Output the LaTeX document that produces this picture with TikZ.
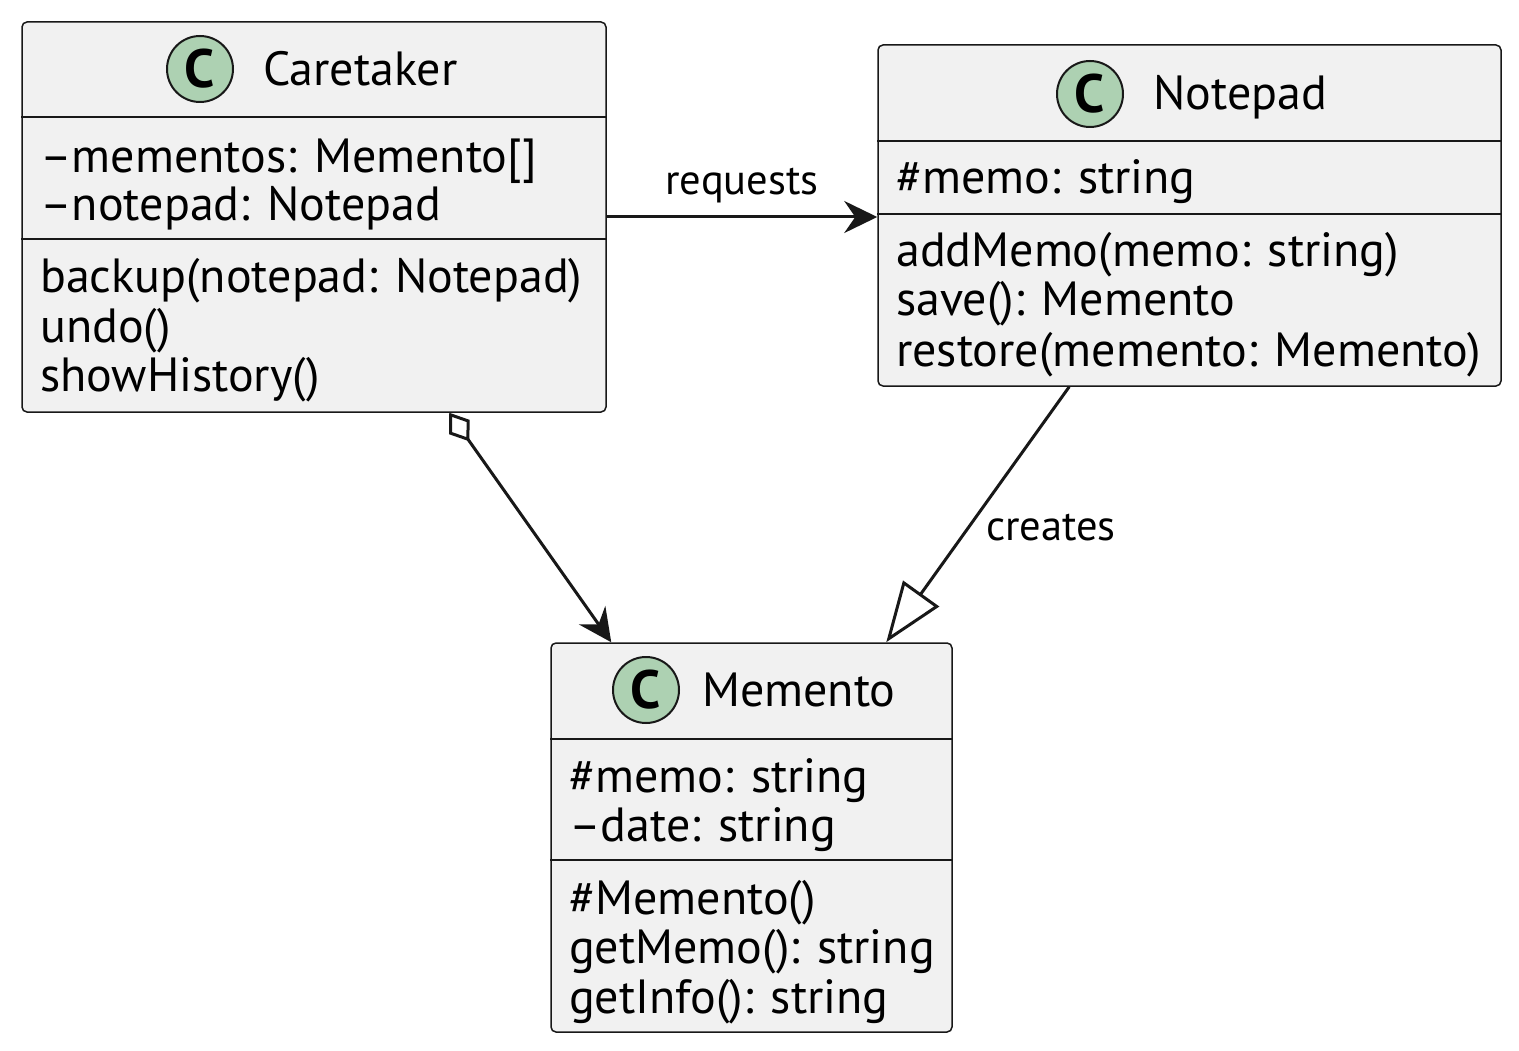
\documentclass[tikz,border=0pt]{standalone}
\usepackage{fontspec}
\setmainfont{PT Sans}
\usetikzlibrary{arrows.meta,calc}
\definecolor{boxfill}{HTML}{F1F1F1}
\definecolor{boxline}{HTML}{181818}
\definecolor{iconfill}{HTML}{ADD1B2}
\tikzset{classbox/.style={draw=boxline, fill=boxfill, line width=1.5pt, rounded corners=5pt, inner sep=0pt}}
\tikzset{divider/.style={draw=boxline, line width=1.5pt}}
\tikzset{icon/.style={circle, draw=boxline, fill=iconfill, line width=2pt, minimum size=66pt, inner sep=0pt, font=\fontsize{54}{54}\selectfont\bfseries}}
\tikzset{title/.style={anchor=base west, inner sep=0pt, font=\fontsize{48}{48}\selectfont}}
\tikzset{member/.style={anchor=base west, inner sep=0pt, font=\fontsize{48}{48}\selectfont}}
\tikzset{link/.style={draw=boxline, line width=3pt}}
\tikzset{assoc/.style={link, -{Stealth[length=33pt, width=32pt, inset=11pt]}}}
\tikzset{aggr/.style={link, {Diamond[open, length=35pt, width=25pt]}-{Stealth[length=33pt, width=32pt, inset=11pt]}}}
\tikzset{gen/.style={link, -{Triangle[open, length=60pt, width=44pt]}}}
\tikzset{linklabel/.style={inner sep=0pt, font=\fontsize{42.5}{42.5}\selectfont}}

\begin{document}
\begin{tikzpicture}[x=1pt, y=-1pt]
  \useasboundingbox (0,0) rectangle (1519,1051);

  % Caretaker
  \node (caretaker) at (314,217)[classbox, minimum width=584pt, minimum height=390pt]{};
  \draw[divider] (caretaker.west |- 0,117) -- (caretaker.east |- 0,117);
  \draw[divider] (caretaker.west |- 0,239) -- (caretaker.east |- 0,239);
  \node (caretakerIcon) at (200,69)[icon]{C};
  \node (caretakerName) at (263,86)[title]{Caretaker};
  \node (caretakerA1) at (40,173)[member]{–mementos: Memento[]};
  \node (caretakerA2) at (40,221)[member]{–notepad: Notepad};
  \node (caretakerM1) at (40,293)[member]{backup(notepad: Notepad)};
  \node (caretakerM2) at (40,342)[member]{undo()};
  \node (caretakerM3) at (40,391)[member]{showHistory()};

  % Notepad
  \node (notepad) at (1189.5,215.5)[classbox, minimum width=623pt, minimum height=341pt]{};
  \draw[divider] (notepad.west |- 0,141) -- (notepad.east |- 0,141);
  \draw[divider] (notepad.west |- 0,214) -- (notepad.east |- 0,214);
  \node (notepadIcon) at (1090,94)[icon]{C};
  \node (notepadName) at (1153,110)[title]{Notepad};
  \node (notepadA1) at (896,194)[member]{\#memo: string};
  \node (notepadM1) at (896,267)[member]{addMemo(memo: string)};
  \node (notepadM2) at (896,316)[member]{save(): Memento};
  \node (notepadM3) at (896,366)[member]{restore(memento: Memento)};

  % Memento
  \node (memento) at (751.5,837.5)[classbox, minimum width=401pt, minimum height=389pt]{};
  \draw[divider] (memento.west |- 0,739) -- (memento.east |- 0,739);
  \draw[divider] (memento.west |- 0,860) -- (memento.east |- 0,860);
  \node (mementoIcon) at (646,690)[icon]{C};
  \node (mementoName) at (702,706)[title]{Memento};
  \node (mementoA1) at (569,792)[member]{\#memo: string};
  \node (mementoA2) at (569,841)[member]{–date: string};
  \node (mementoM1) at (569,914)[member]{\#Memento()};
  \node (mementoM2) at (569,963)[member]{getMemo(): string};
  \node (mementoM3) at (569,1013)[member]{getInfo(): string};

  \draw[assoc] (caretaker.east) -- (caretaker.east -| notepad.west) node [midway, above=12pt, linklabel] {requests};
  \draw[aggr] ($(caretaker.south west)+(428,0)$) -- ($(memento.north west)+(61,0)$);
  \draw[gen] ($(notepad.south west)+(192,0)$) -- ($(memento.north west)+(336,0)$) node [pos=0.55, anchor=west, xshift=16pt, linklabel] {creates};
\end{tikzpicture}
\end{document}
